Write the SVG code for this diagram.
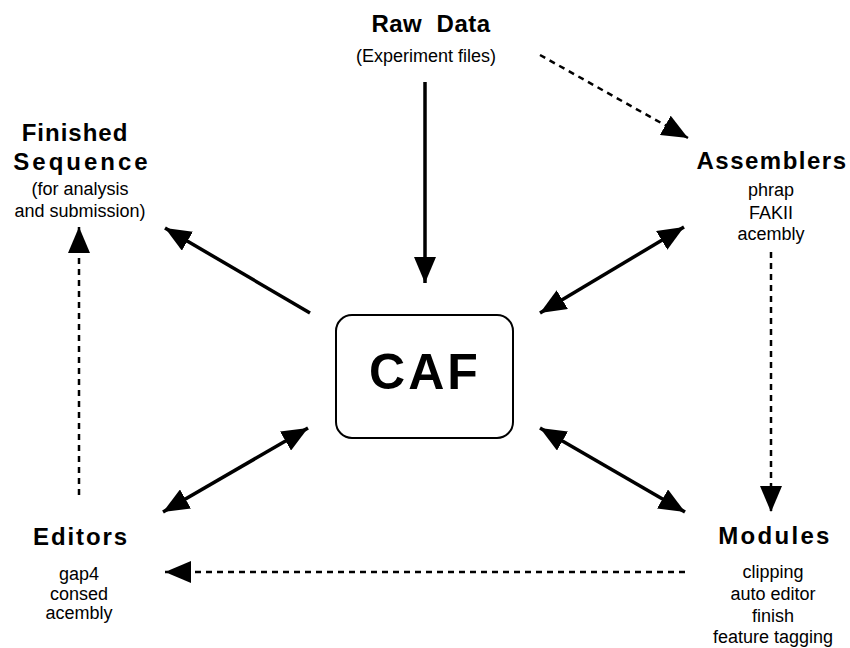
<svg xmlns="http://www.w3.org/2000/svg" width="850" height="648" viewBox="0 0 850 648">
<style>
.t{font-family:"Liberation Sans",Arial,sans-serif;font-weight:bold;font-size:24px;fill:#000;text-anchor:middle;letter-spacing:1.5px}
.s{font-family:"Liberation Sans",Arial,sans-serif;font-size:18px;fill:#000;text-anchor:middle}
.solid{stroke:#000;stroke-width:3.5;fill:none}
.dash{stroke:#000;stroke-width:2.5;fill:none;stroke-dasharray:6 5}
</style>
<defs>
<marker id="ah" viewBox="0 0 26 22" refX="26" refY="11" markerWidth="26" markerHeight="22" markerUnits="userSpaceOnUse" orient="auto-start-reverse">
<path d="M0,0 L26,11 L0,22 Z" fill="#000"/>
</marker>
</defs>
<g id="raw">
<text class="t" x="431" y="32" style="letter-spacing:0.5px" xml:space="preserve">Raw  Data</text>
<text class="s" x="426" y="62">(Experiment files)</text>
</g>
<g id="finished">
<text class="t" x="75" y="141" style="letter-spacing:1px">Finished</text>
<text class="t" x="82" y="170" style="letter-spacing:3px">Sequence</text>
<text class="s" x="80" y="195">(for analysis</text>
<text class="s" x="80" y="217">and submission)</text>
</g>
<g id="assemblers">
<text class="t" x="772" y="169">Assemblers</text>
<text class="s" x="771" y="196">phrap</text>
<text class="s" x="771" y="219">FAKII</text>
<text class="s" x="771" y="240">acembly</text>
</g>
<g id="caf">
<rect x="336" y="315" width="177" height="123" rx="16" fill="#fff" stroke="#000" stroke-width="2"/>
<text x="425" y="389" style="font-family:'Liberation Sans',Arial,sans-serif;font-weight:bold;font-size:50px;text-anchor:middle;letter-spacing:3px">CAF</text>
</g>
<g id="editors">
<text class="t" x="81" y="545" style="letter-spacing:1.9px">Editors</text>
<text class="s" x="79" y="580">gap4</text>
<text class="s" x="79" y="600">consed</text>
<text class="s" x="79" y="619">acembly</text>
</g>
<g id="modules">
<text class="t" x="775" y="544" style="letter-spacing:2.3px">Modules</text>
<text class="s" x="773" y="578">clipping</text>
<text class="s" x="773" y="600">auto editor</text>
<text class="s" x="773" y="622">finish</text>
<text class="s" x="773" y="643">feature tagging</text>
</g>
<g id="connectors">
<line class="solid" x1="425" y1="82" x2="425" y2="283" marker-end="url(#ah)"/>
<line class="dash" x1="540" y1="55" x2="688" y2="138" marker-end="url(#ah)"/>
<line class="solid" x1="310" y1="313" x2="165" y2="228" marker-end="url(#ah)"/>
<line class="solid" x1="540" y1="313" x2="684" y2="227" marker-start="url(#ah)" marker-end="url(#ah)"/>
<line class="solid" x1="308" y1="428" x2="163" y2="512" marker-start="url(#ah)" marker-end="url(#ah)"/>
<line class="solid" x1="540" y1="428" x2="685" y2="512" marker-start="url(#ah)" marker-end="url(#ah)"/>
<line class="dash" x1="771" y1="252" x2="771" y2="512" marker-end="url(#ah)"/>
<line class="dash" x1="79" y1="495" x2="79" y2="227" marker-end="url(#ah)"/>
<line class="dash" x1="685" y1="572" x2="165" y2="572" marker-end="url(#ah)"/>
</g>
</svg>
